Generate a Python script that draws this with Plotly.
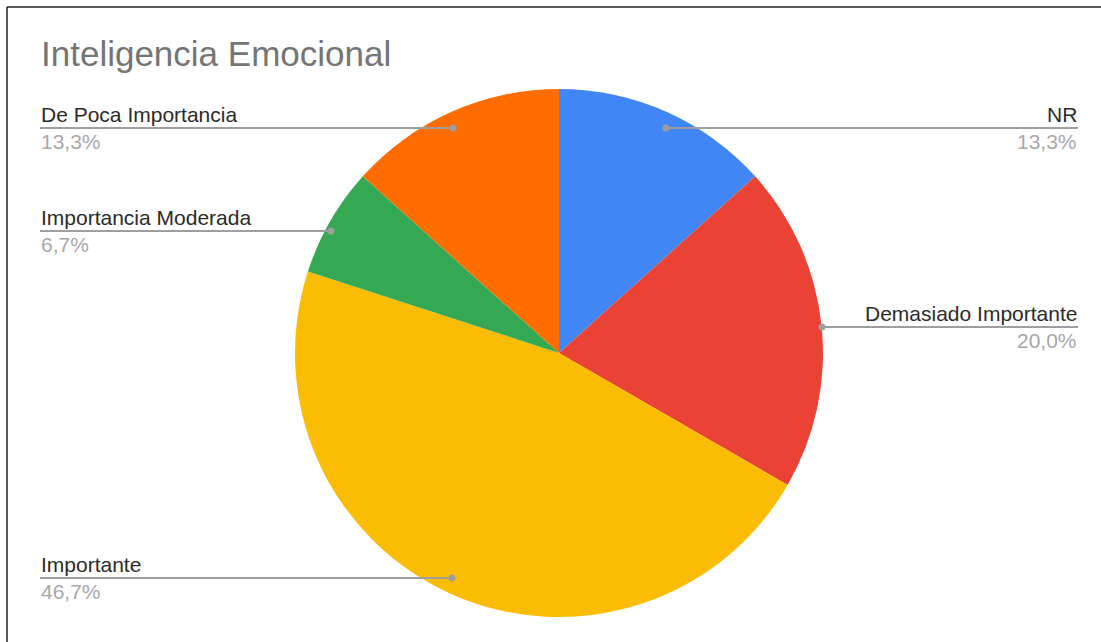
import plotly.graph_objects as go

W, H = 1101, 642

categories = ["NR", "Demasiado Importante", "Importante", "Importancia Moderada", "De Poca Importancia"]
counts = [2, 3, 7, 1, 2]
pct_labels = ["13,3%", "20,0%", "46,7%", "6,7%", "13,3%"]
colors = ["#4285F4", "#EA4335", "#FBBC04", "#34A853", "#FF6D01"]

# label layout (pixel positions): side, line y, dot x
label_side = ["right", "right", "left", "left", "left"]
label_line_y = [128, 327, 578, 231, 128]
label_dot_x = [666, 822, 452, 331, 453]

def px(x):
    return x / W

def py(y):
    return 1 - y / H

cx, cy, r = 559, 353, 264

fig = go.Figure(go.Pie(
    labels=categories,
    values=counts,
    sort=False,
    direction="clockwise",
    rotation=0,
    marker=dict(colors=colors, line=dict(width=0)),
    textinfo="none",
    hoverinfo="label+percent",
    showlegend=False,
    domain=dict(x=[px(cx - r), px(cx + r)], y=[py(cy + r), py(cy - r)]),
))

shapes = []
annotations = []
font_family = "Arial, Liberation Sans, sans-serif"
for cat, pct, side, ly, dx in zip(categories, pct_labels, label_side, label_line_y, label_dot_x):
    if side == "left":
        x0, x1 = 40, dx
        tx, anchor = 40, "left"
    else:
        x0, x1 = dx, 1078
        tx, anchor = 1078, "right"
    shapes.append(dict(type="line", xref="paper", yref="paper",
                       x0=px(x0), x1=px(x1), y0=py(ly), y1=py(ly),
                       line=dict(color="#9E9E9E", width=2)))
    shapes.append(dict(type="circle", xref="paper", yref="paper",
                       x0=px(dx - 3.5), x1=px(dx + 3.5), y0=py(ly + 3.5), y1=py(ly - 3.5),
                       fillcolor="#9E9E9E", line=dict(width=0)))
    annotations.append(dict(text=cat, xref="paper", yref="paper", x=px(tx), y=py(ly - 1),
                            xanchor=anchor, yanchor="bottom", showarrow=False,
                            borderpad=0, font=dict(family=font_family, size=21, color="#2b2b2b")))
    annotations.append(dict(text=pct, xref="paper", yref="paper", x=px(tx), y=py(ly + 1),
                            xanchor=anchor, yanchor="top", showarrow=False,
                            borderpad=0, font=dict(family=font_family, size=21, color="#A8A8A8")))

# title
annotations.append(dict(text="Inteligencia Emocional", xref="paper", yref="paper",
                        x=px(40), y=py(33), xanchor="left", yanchor="top", showarrow=False,
                        borderpad=0, font=dict(family=font_family, size=35, color="#757575")))

# frame lines (top and left)
shapes.append(dict(type="line", xref="paper", yref="paper", x0=px(7), x1=1, y0=py(7), y1=py(7),
                   line=dict(color="#222222", width=1.5)))
shapes.append(dict(type="line", xref="paper", yref="paper", x0=px(7), x1=px(7), y0=py(7), y1=0,
                   line=dict(color="#222222", width=1.5)))

fig.update_layout(
    width=W, height=H,
    margin=dict(l=0, r=0, t=0, b=0),
    paper_bgcolor="white",
    plot_bgcolor="white",
    shapes=shapes,
    annotations=annotations,
)

fig.write_html("out.html", config={"displayModeBar": False},
               post_script="document.body.style.margin='0px';document.body.style.overflow='hidden';")
